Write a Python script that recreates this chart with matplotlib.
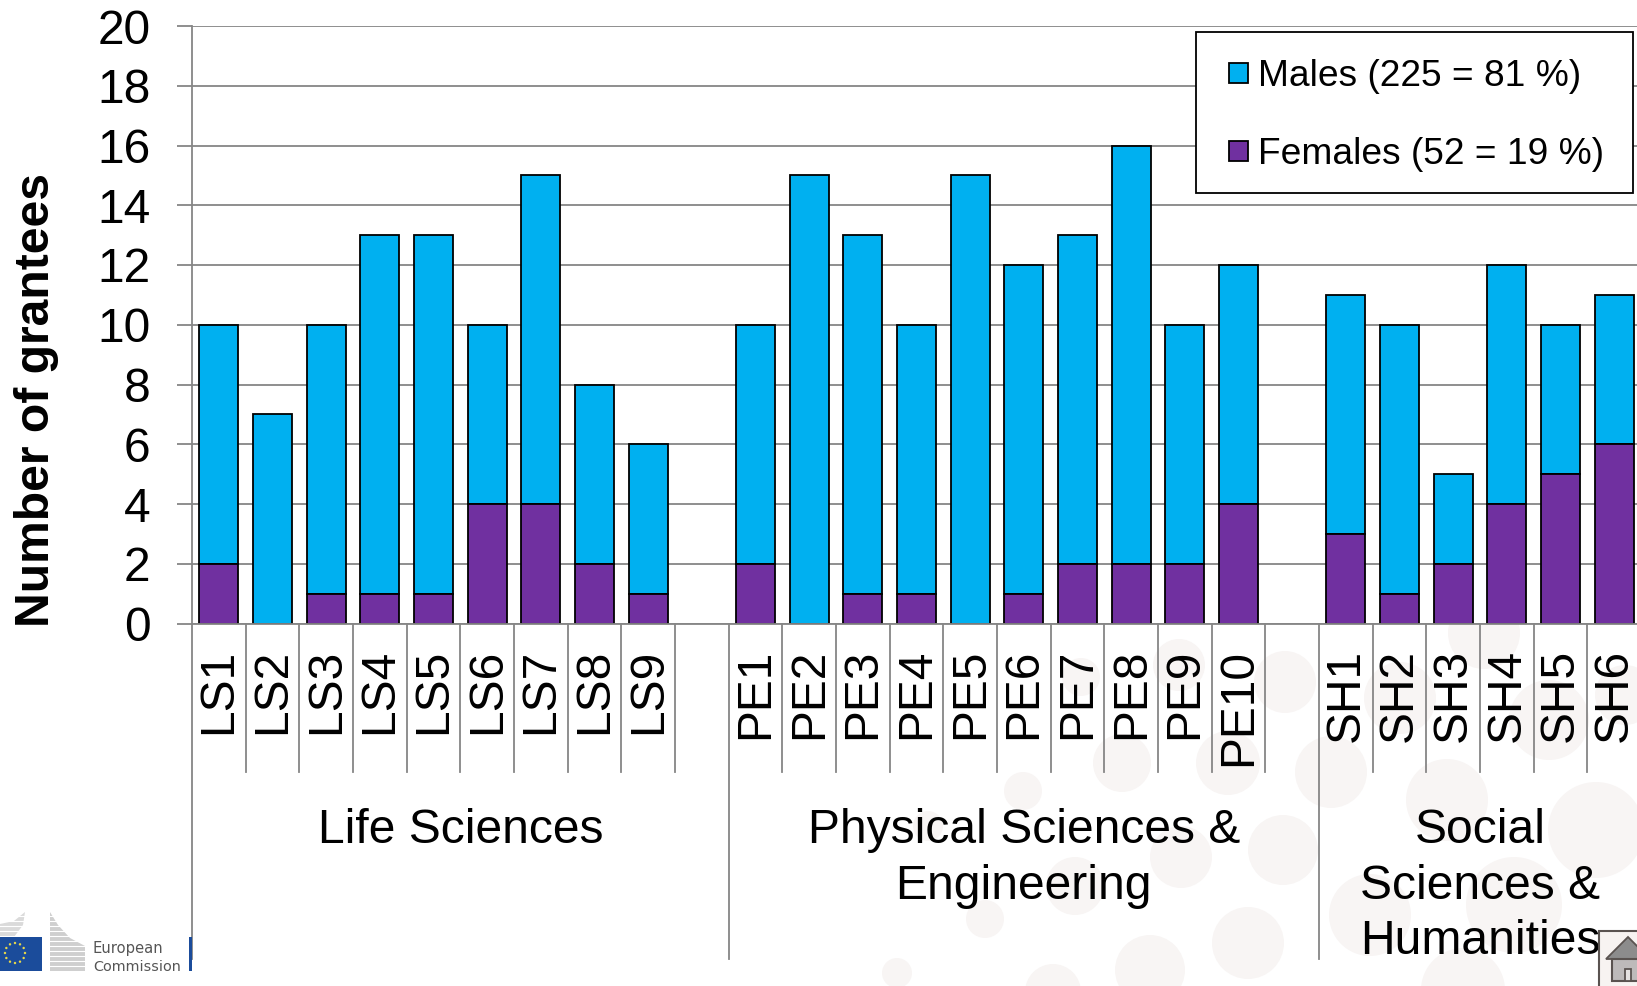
import numpy as np
import matplotlib.pyplot as plt
from matplotlib.patches import Circle, Polygon, Rectangle
from matplotlib.transforms import Affine2D

plt.rcParams['font.family'] = ['Liberation Sans', 'DejaVu Sans']

# blank strings are the gaps between the three domains
categories = ['LS1', 'LS2', 'LS3', 'LS4', 'LS5', 'LS6', 'LS7', 'LS8', 'LS9', '',
              'PE1', 'PE2', 'PE3', 'PE4', 'PE5', 'PE6', 'PE7', 'PE8', 'PE9', 'PE10', '',
              'SH1', 'SH2', 'SH3', 'SH4', 'SH5', 'SH6']
females = [2, 0, 1, 1, 1, 4, 4, 2, 1, 0,
           2, 0, 1, 1, 0, 1, 2, 2, 2, 4, 0,
           3, 1, 2, 4, 5, 6]
males = [8, 7, 9, 12, 12, 6, 11, 6, 5, 0,
         8, 15, 12, 9, 15, 11, 11, 14, 8, 8, 0,
         8, 9, 3, 8, 5, 5]

group_labels = ['Life Sciences', 'Physical Sciences &\nEngineering', 'Social\nSciences &\nHumanities']
group_edges = [0, 10, 21, 27]

male_label = 'Males (225 = 81 %)'
female_label = 'Females (52 = 19 %)'
y_ticks = list(range(0, 21, 2))

W, H = 1637, 986
GRID = '#868686'

fig = plt.figure(figsize=(W / 100, H / 100), dpi=100)
px = Affine2D().scale(1, -1).translate(0, H)  # figure pixels, origin top left

# pale background dots of the slide: x, y, radius in pixels
dots = [(1285, 682, 31), (1122, 763, 29), (1179, 665, 26), (1081, 677, 19), (1023, 791, 19),
        (1228, 763, 32), (1331, 772, 36), (1400, 698, 36), (1447, 800, 41), (1484, 633, 36),
        (1549, 720, 40), (1596, 830, 48), (1283, 850, 35), (1181, 857, 31), (1075, 886, 29),
        (1370, 915, 41), (1514, 905, 48), (1248, 943, 36), (1150, 970, 35), (1053, 992, 28),
        (1463, 990, 42), (1625, 695, 30), (928, 826, 15), (985, 919, 19), (897, 973, 15)]
for dx, dy, r in dots:
    fig.add_artist(Circle((dx, dy), r, transform=px, fc='#F8F5F4', ec='none', zorder=0))

ax = fig.add_axes([192 / W, (H - 623.5) / H, 1449 / W, 597.5 / H], zorder=1)
ax.set_facecolor('white')

x = np.arange(len(categories))
f = np.array(females)
m = np.array(males)
bar_w = 0.73

keep_m = m > 0
keep_f = f > 0
bars_m = ax.bar(x[keep_m], m[keep_m], bottom=f[keep_m], width=bar_w, color='#00B0F0',
                edgecolor='black', linewidth=1.3, label=male_label)
bars_f = ax.bar(x[keep_f], f[keep_f], width=bar_w, color='#7030A0',
                edgecolor='black', linewidth=1.3, label=female_label)

ax.set_xlim(-0.5, len(categories) - 0.5)
ax.set_ylim(0, 20)
ax.set_yticks(y_ticks)
ax.tick_params(axis='y', labelsize=34.5, length=11, width=1.3, color=GRID, pad=19)
for lab in ax.get_yticklabels():
    lab.set_verticalalignment('center_baseline')
ax.set_xticks(x)
ax.set_xticklabels(categories, rotation=90, fontsize=34.5, va='top', ha='center')
ax.tick_params(axis='x', length=0, pad=18)
ax.yaxis.grid(True, color=GRID, linewidth=1.3)
ax.set_axisbelow(True)
for side in ['top', 'right']:
    ax.spines[side].set_visible(False)
for side in ['left', 'bottom']:
    ax.spines[side].set_color(GRID)
    ax.spines[side].set_linewidth(1.3)

ax.set_ylabel('Number of grantees', fontsize=34.6, fontweight='bold')
ax.yaxis.set_label_coords(-133 / 1449, 0.374)

# category separators below the axis, longer between the domains
trans = ax.get_xaxis_transform()
for i in range(len(categories) + 1):
    low = -0.5615 if i in group_edges[:-1] else -0.2477
    ax.plot([i - 0.5, i - 0.5], [0, low], color=GRID, lw=1.3, transform=trans, clip_on=False)

for label, a, b in zip(group_labels, group_edges[:-1], group_edges[1:]):
    ax.text((a + b) / 2 - 0.5, -0.309, label, transform=trans, ha='center', va='top',
            fontsize=34.6, linespacing=1.3)

# legend frame drawn apart so the entries can sit where they do in the slide
ax.add_patch(Rectangle((1196, 32), 437, 161, transform=px, fc='white', ec='black', lw=1.3,
                       clip_on=False, zorder=4))
leg = ax.legend(handles=[bars_m, bars_f], loc='upper left', fontsize=26.7,
                bbox_to_anchor=(1229 / W, (H - 59) / H), bbox_transform=fig.transFigure,
                frameon=False, borderaxespad=0, borderpad=0,
                handlelength=0.5, handleheight=0.45, handletextpad=0.27,
                labelspacing=1.17)
leg.set_zorder(5)

# European Commission logo, bottom left
fig.add_artist(Polygon([(50, 912), (58, 925), (70, 938), (85, 946), (85, 971), (50, 971)],
                       transform=px, fc='#CFCFCF', ec='none', zorder=2))
fig.add_artist(Polygon([(0, 924), (14, 921), (25, 912), (23, 925), (14, 937), (0, 937)],
                       transform=px, fc='#DADADA', ec='none', zorder=2))
for sy in range(916, 971, 5):
    fig.add_artist(plt.Line2D([0, 86], [sy, sy], transform=px, color='white', lw=0.8, zorder=3))
fig.add_artist(Rectangle((0, 937), 42, 34, transform=px, fc='#1B4C9B', ec='none', zorder=4))
fig.add_artist(Rectangle((189, 937), 3, 34, transform=px, fc='#1B4C9B', ec='none', zorder=4))
for a in np.arange(0, 360, 30):
    sx = 15 + 10 * np.cos(np.radians(a))
    sy = 953 + 10 * np.sin(np.radians(a))
    fig.add_artist(Circle((sx, sy), 1.2, transform=px, fc='#E8D84A', ec='none', zorder=5))
fig.text(93, 953, 'European', transform=px, fontsize=10.6, color='#555555',
         family='DejaVu Sans', zorder=4)
fig.text(93, 971, 'Commission', transform=px, fontsize=10.4, color='#555555',
         family='DejaVu Sans', zorder=4)

# home button, bottom right
fig.add_artist(Rectangle((1599, 931), 50, 70, transform=px, fc='#F7F3F1', ec='#5A5350', lw=1.5, zorder=3))
fig.add_artist(Polygon([(1628, 937), (1606, 959), (1650, 959)], transform=px,
                       fc='#8C8C8C', ec='#5A5350', lw=1.3, zorder=4))
fig.add_artist(Rectangle((1612, 959), 30, 22, transform=px, fc='#BDBABA', ec='#5A5350', lw=1.5, zorder=4))
fig.add_artist(Rectangle((1625, 969), 6, 12, transform=px, fc='#E5E2E1', ec='#5A5350', lw=1.3, zorder=5))

fig.savefig('out.png', dpi=100)
